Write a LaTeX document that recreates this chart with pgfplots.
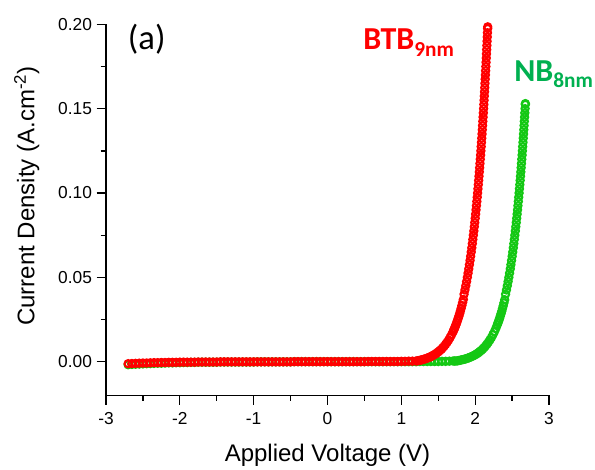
\documentclass[border=0pt]{standalone}
\usepackage{fontspec}
\setmainfont{Liberation Sans}
\newfontfamily\calibri{Carlito}
\usepackage{pgfplots}
\pgfplotsset{compat=1.18}
\definecolor{curvered}{RGB}{255,0,0}
\definecolor{curvegreen}{RGB}{20,200,20}
\definecolor{labelgreen}{RGB}{0,176,80}
\begin{document}
\begin{tikzpicture}
\path[use as bounding box] (-79.5pt,-55.2pt) rectangle (366.75pt,296.55pt);
\begin{axis}[
  at={(0,0)}, anchor=south west,
  width=332.25pt, height=278.3pt, scale only axis,
  xmin=-3, xmax=3, ymin=-0.02, ymax=0.2,
  axis x line=bottom, axis y line=left,
  axis line style={-, line width=1pt},
  clip=false,
  tick align=outside,
  major tick length=7pt, minor tick length=4pt,
  every tick/.style={black, line width=1pt},
  xtick={-3,-2,-1,0,1,2,3},
  xticklabels={-3,-2,-1,0,1,2,3},
  minor x tick num=1,
  ytick={0,0.05,0.1,0.15,0.2},
  yticklabels={0.00,0.05,0.10,0.15,0.20},
  minor y tick num=1,
  ticklabel style={font=\fontsize{13}{13}\selectfont},
  xticklabel style={yshift=-2pt},
  xlabel={Applied Voltage (V)},
  ylabel={Current Density (A.cm\textsuperscript{-2})},
  label style={font=\fontsize{18}{18}\selectfont},
  xlabel style={at={(axis description cs:0.5,-0.1768)}, anchor=base},
  ylabel style={at={(axis description cs:-0.1788,0.537)}, anchor=center},
]
% NB 8 nm (green)
\addplot[only marks, mark=o, mark size=2.7pt, color=curvegreen, mark options={line width=1.6pt}] table {
-2.70 -0.0018
-2.65 -0.0016
-2.60 -0.0015
-2.55 -0.0014
-2.50 -0.0013
-2.45 -0.0012
-2.40 -0.0011
-2.35 -0.0010
-2.30 -0.0009
-2.25 -0.0009
-2.20 -0.0008
-2.15 -0.0007
-2.10 -0.0007
-2.05 -0.0006
-2.00 -0.0006
-1.95 -0.0005
-1.90 -0.0005
-1.85 -0.0004
-1.80 -0.0004
-1.75 -0.0003
-1.70 -0.0003
-1.65 -0.0003
-1.60 -0.0003
-1.55 -0.0003
-1.50 -0.0003
-1.45 -0.0002
-1.40 -0.0002
-1.35 -0.0002
-1.30 -0.0002
-1.25 -0.0002
-1.20 -0.0002
-1.15 -0.0002
-1.10 -0.0002
-1.05 -0.0002
-1.00 -0.0002
-0.95 -0.0001
-0.90 -0.0001
-0.85 -0.0001
-0.80 -0.0001
-0.75 -0.0001
-0.70 -0.0001
-0.65 -0.0001
-0.60 -0.0001
-0.55 -0.0001
-0.50 -0.0001
-0.45 0.0000
-0.40 0.0000
-0.35 0.0000
-0.30 0.0000
-0.25 0.0000
-0.20 0.0000
-0.15 0.0000
-0.10 0.0000
-0.05 0.0000
0.00 0.0000
0.05 0.0000
0.10 0.0000
0.15 0.0000
0.20 0.0000
0.25 0.0000
0.30 0.0000
0.35 0.0000
0.40 0.0000
0.45 0.0000
0.50 0.0000
0.55 0.0000
0.60 0.0000
0.65 0.0000
0.70 0.0000
0.75 0.0000
0.80 0.0000
0.85 0.0000
0.90 0.0000
0.95 0.0000
1.00 0.0000
1.05 0.0000
1.10 0.0000
1.15 0.0000
1.20 0.0000
1.25 0.0001
1.30 0.0001
1.35 0.0001
1.40 0.0001
1.45 0.0001
1.50 0.0001
1.55 0.0002
1.60 0.0002
1.65 0.0003
1.70 0.0004
1.72 0.0004
1.74 0.0004
1.76 0.0005
1.78 0.0007
1.80 0.0009
1.82 0.0011
1.84 0.0013
1.86 0.0015
1.88 0.0018
1.90 0.0021
1.92 0.0024
1.94 0.0028
1.96 0.0032
1.98 0.0036
2.00 0.0041
2.02 0.0046
2.04 0.0052
2.06 0.0059
2.08 0.0066
2.10 0.0074
2.12 0.0083
2.14 0.0093
2.16 0.0104
2.18 0.0116
2.20 0.0129
2.22 0.0143
2.24 0.0160
2.26 0.0177
2.28 0.0197
2.30 0.0219
2.31 0.0231
2.32 0.0243
2.33 0.0256
2.34 0.0270
2.35 0.0284
2.36 0.0299
2.37 0.0315
2.38 0.0331
2.39 0.0349
2.40 0.0367
2.4117 0.0400
2.4238 0.0425
2.4353 0.0450
2.4461 0.0475
2.4564 0.0500
2.4661 0.0525
2.4754 0.0550
2.4843 0.0575
2.4928 0.0600
2.5010 0.0625
2.5088 0.0650
2.5164 0.0675
2.5236 0.0700
2.5307 0.0725
2.5374 0.0750
2.5440 0.0775
2.5504 0.0800
2.5565 0.0825
2.5625 0.0850
2.5683 0.0875
2.5739 0.0900
2.5794 0.0925
2.5847 0.0950
2.5899 0.0975
2.5950 0.1000
2.5999 0.1025
2.6047 0.1050
2.6094 0.1075
2.6140 0.1100
2.6185 0.1125
2.6229 0.1150
2.6272 0.1175
2.6314 0.1200
2.6356 0.1225
2.6396 0.1250
2.6436 0.1275
2.6475 0.1300
2.6513 0.1325
2.6550 0.1350
2.6587 0.1375
2.6623 0.1400
2.6658 0.1425
2.6693 0.1450
2.6727 0.1475
2.6761 0.1500
2.6794 0.1525
2.6800 0.1530
};
% BTB 9 nm (red)
\addplot[only marks, mark=o, mark size=2.7pt, color=curvered, mark options={line width=1.6pt}] table {
-2.70 -0.0012
-2.65 -0.0011
-2.60 -0.0010
-2.55 -0.0009
-2.50 -0.0008
-2.45 -0.0008
-2.40 -0.0007
-2.35 -0.0006
-2.30 -0.0006
-2.25 -0.0005
-2.20 -0.0005
-2.15 -0.0004
-2.10 -0.0004
-2.05 -0.0004
-2.00 -0.0003
-1.95 -0.0003
-1.90 -0.0003
-1.85 -0.0003
-1.80 -0.0003
-1.75 -0.0002
-1.70 -0.0002
-1.65 -0.0002
-1.60 -0.0002
-1.55 -0.0002
-1.50 -0.0002
-1.45 -0.0001
-1.40 -0.0001
-1.35 -0.0001
-1.30 -0.0001
-1.25 -0.0001
-1.20 -0.0001
-1.15 -0.0001
-1.10 -0.0001
-1.05 -0.0001
-1.00 -0.0001
-0.95 -0.0001
-0.90 -0.0001
-0.85 -0.0001
-0.80 -0.0001
-0.75 -0.0001
-0.70 -0.0001
-0.65 -0.0001
-0.60 -0.0001
-0.55 -0.0001
-0.50 -0.0001
-0.45 0.0000
-0.40 0.0000
-0.35 0.0000
-0.30 0.0000
-0.25 0.0000
-0.20 0.0000
-0.15 0.0000
-0.10 0.0000
-0.05 0.0000
0.00 0.0000
0.05 0.0000
0.10 0.0000
0.15 0.0000
0.20 0.0000
0.25 0.0000
0.30 0.0000
0.35 0.0000
0.40 0.0000
0.45 0.0000
0.50 0.0000
0.55 0.0001
0.60 0.0001
0.65 0.0001
0.70 0.0001
0.75 0.0001
0.80 0.0001
0.85 0.0001
0.90 0.0001
0.95 0.0001
1.00 0.0002
1.05 0.0002
1.10 0.0003
1.15 0.0003
1.20 0.0004
1.22 0.0005
1.24 0.0007
1.26 0.0009
1.28 0.0011
1.30 0.0014
1.32 0.0016
1.34 0.0019
1.36 0.0023
1.38 0.0026
1.40 0.0030
1.42 0.0035
1.44 0.0040
1.46 0.0045
1.48 0.0051
1.50 0.0058
1.52 0.0065
1.54 0.0073
1.56 0.0082
1.58 0.0092
1.60 0.0103
1.62 0.0115
1.64 0.0128
1.66 0.0143
1.68 0.0159
1.70 0.0177
1.71 0.0187
1.72 0.0197
1.73 0.0208
1.74 0.0219
1.75 0.0231
1.76 0.0244
1.77 0.0257
1.78 0.0270
1.79 0.0285
1.80 0.0300
1.81 0.0316
1.82 0.0333
1.83 0.0351
1.84 0.0369
1.8496 0.0400
1.8617 0.0425
1.8732 0.0450
1.8840 0.0475
1.8943 0.0500
1.9040 0.0525
1.9133 0.0550
1.9222 0.0575
1.9307 0.0600
1.9389 0.0625
1.9467 0.0650
1.9543 0.0675
1.9615 0.0700
1.9686 0.0725
1.9753 0.0750
1.9819 0.0775
1.9883 0.0800
1.9944 0.0825
2.0004 0.0850
2.0062 0.0875
2.0118 0.0900
2.0173 0.0925
2.0226 0.0950
2.0278 0.0975
2.0329 0.1000
2.0378 0.1025
2.0426 0.1050
2.0473 0.1075
2.0519 0.1100
2.0564 0.1125
2.0608 0.1150
2.0651 0.1175
2.0693 0.1200
2.0735 0.1225
2.0775 0.1250
2.0815 0.1275
2.0854 0.1300
2.0892 0.1325
2.0929 0.1350
2.0966 0.1375
2.1002 0.1400
2.1037 0.1425
2.1072 0.1450
2.1106 0.1475
2.1140 0.1500
2.1173 0.1525
2.1205 0.1550
2.1237 0.1575
2.1269 0.1600
2.1300 0.1625
2.1330 0.1650
2.1360 0.1675
2.1390 0.1700
2.1419 0.1725
2.1448 0.1750
2.1476 0.1775
2.1504 0.1800
2.1532 0.1825
2.1559 0.1850
2.1586 0.1875
2.1613 0.1900
2.1639 0.1925
2.1664 0.1950
2.1690 0.1975
2.1700 0.1985
};
\node[anchor=west, inner sep=0pt, font=\calibri\fontsize{26}{26}\selectfont] at (axis cs:-2.706,0.1914) {(a)};
\node[anchor=base west, inner sep=0pt, text=curvered, font=\calibri\bfseries\fontsize{24}{24}\selectfont] at (axis cs:0.481,0.1849) {BTB\raisebox{-5.25pt}{\fontsize{16}{16}\selectfont 9nm}};
\node[anchor=base west, inner sep=0pt, text=labelgreen, font=\calibri\bfseries\fontsize{24}{24}\selectfont] at (axis cs:2.526,0.1659) {NB\raisebox{-4.5pt}{\fontsize{16}{16}\selectfont 8nm}};
\end{axis}
\end{tikzpicture}
\end{document}
